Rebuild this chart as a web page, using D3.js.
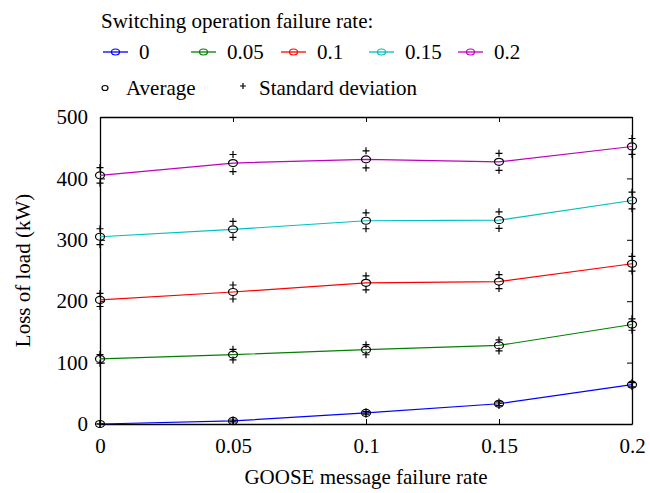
<!DOCTYPE html>
<html>
<head>
<meta charset="utf-8">
<script src="https://cdn.jsdelivr.net/npm/d3@7"></script>
<style>
  body { margin: 0; background: #fff; }
  svg text { font-family: "Liberation Serif", "DejaVu Serif", serif; }
</style>
</head>
<body>
<div id="chart"></div>
<script>

// GOOSE message failure rate (x axis)
var gooseRates = [0, 0.05, 0.1, 0.15, 0.2];
var xTicks = [0, 0.05, 0.1, 0.15, 0.2];
var yTicks = [0, 100, 200, 300, 400, 500];

// switching operation failure rate = one series each
var switchRates = ["0", "0.05", "0.1", "0.15", "0.2"];
var colors = ["#0000ff", "#008000", "#ff0000", "#00bfbf", "#bf00bf"];

// average loss of load (kW)
var avg0   = [0, 5, 18, 33, 64];
var avg005 = [106, 113, 121, 128, 162];
var avg01  = [202, 215, 230, 232, 261];
var avg015 = [305, 317, 331, 332, 364];
var avg02  = [405, 425, 431, 427, 452];

// standard deviation (kW)
var sd0   = [0, 1.5, 2, 3, 3.5];
var sd005 = [7, 8.7, 8.2, 9, 9.3];
var sd01  = [10.6, 11.4, 11.4, 11.4, 12];
var sd015 = [13, 13, 13, 13.5, 13.5];
var sd02  = [12.7, 13.9, 13.9, 13.9, 13];

var avgs = [avg0, avg005, avg01, avg015, avg02];
var sds  = [sd0, sd005, sd01, sd015, sd02];

var width = 650, height = 493;
var margin = {top: 117, right: 18, bottom: 69, left: 100};
var w = width - margin.left - margin.right;
var h = height - margin.top - margin.bottom;
var fontSize = "21px";
var serif = "'Liberation Serif', 'DejaVu Serif', serif";

var svg = d3.select("#chart").append("svg")
  .attr("width", width)
  .attr("height", height);

var x = d3.scaleLinear().domain([0, 0.2]).range([0, w]);
var y = d3.scaleLinear().domain([0, 500]).range([h, 0]);

var g = svg.append("g")
  .attr("transform", "translate(" + margin.left + "," + margin.top + ")");

var fmt = function(d){ return d == 0 ? "0" : String(d); };

// axes, ticks inward
var tickLen = 5;
g.append("g").attr("class", "xaxis")
  .attr("transform", "translate(0," + h + ")")
  .call(d3.axisBottom(x).tickValues(xTicks).tickFormat(fmt).tickSizeInner(-tickLen).tickSizeOuter(0).tickPadding(14));
g.append("g").attr("class", "xaxis-top")
  .call(d3.axisTop(x).tickValues(xTicks).tickFormat("").tickSizeInner(-tickLen).tickSizeOuter(0));
g.append("g").attr("class", "yaxis")
  .call(d3.axisLeft(y).tickValues(yTicks).tickFormat(fmt).tickSizeInner(-tickLen).tickSizeOuter(0).tickPadding(12));
g.append("g").attr("class", "yaxis-right")
  .attr("transform", "translate(" + w + ",0)")
  .call(d3.axisRight(y).tickValues(yTicks).tickFormat("").tickSizeInner(-tickLen).tickSizeOuter(0));

g.selectAll(".xaxis, .yaxis, .xaxis-top, .yaxis-right")
  .attr("font-family", serif)
  .attr("font-size", 21);
g.selectAll(".domain").attr("stroke", "#000").attr("stroke-width", 1.3);
g.selectAll(".tick line").attr("stroke", "#000");
g.selectAll(".tick text")
  .attr("fill", "#000")
  .style("font-size", fontSize)
  .style("font-family", serif);

// series lines
var line = d3.line()
  .x(function(d, i){ return x(gooseRates[i]); })
  .y(function(d){ return y(d); });

avgs.forEach(function(vals, k){
  g.append("path")
    .datum(vals)
    .attr("d", line)
    .attr("fill", "none")
    .attr("stroke", colors[k])
    .attr("stroke-width", 1.2);
});

// average markers and std dev plus signs
function plus(sel, px, py, s){
  sel.append("path")
    .attr("d", "M" + (px - s) + "," + py + "H" + (px + s) + "M" + px + "," + (py - s) + "V" + (py + s))
    .attr("stroke", "#000")
    .attr("stroke-width", 1.2)
    .attr("fill", "none");
}

avgs.forEach(function(vals, k){
  vals.forEach(function(v, i){
    var px = x(gooseRates[i]);
    plus(g, px, y(v + sds[k][i]), 3.5);
    plus(g, px, y(v - sds[k][i]), 3.5);
    g.append("ellipse")
      .attr("cx", px)
      .attr("cy", y(v))
      .attr("rx", 4.5)
      .attr("ry", 3.5)
      .attr("fill", "none")
      .attr("stroke", "#000")
      .attr("stroke-width", 1.2);
  });
});

// axis titles
svg.append("text")
  .attr("x", margin.left + w / 2)
  .attr("y", 484)
  .attr("text-anchor", "middle")
  .style("font-size", fontSize)
  .text("GOOSE message failure rate");

svg.append("text")
  .attr("transform", "translate(30," + (margin.top + h / 2) + ") rotate(-90)")
  .attr("text-anchor", "middle")
  .style("font-size", fontSize)
  .text("Loss of load (kW)");

// legend
var leg = svg.append("g");
leg.append("text")
  .attr("x", 101).attr("y", 28)
  .style("font-size", fontSize)
  .text("Switching operation failure rate:");

var legX = [103, 191, 281, 369, 458];
switchRates.forEach(function(s, k){
  var lx = legX[k];
  leg.append("line")
    .attr("x1", lx).attr("x2", lx + 25)
    .attr("y1", 52).attr("y2", 52)
    .attr("stroke", colors[k]).attr("stroke-width", 1.3);
  leg.append("ellipse")
    .attr("cx", lx + 12.5).attr("cy", 52)
    .attr("rx", 4).attr("ry", 3)
    .attr("fill", "none").attr("stroke", colors[k]).attr("stroke-width", 1.2);
  leg.append("text")
    .attr("x", lx + 36).attr("y", 59)
    .style("font-size", fontSize)
    .text(s);
});

leg.append("ellipse")
  .attr("cx", 105).attr("cy", 88)
  .attr("rx", 3).attr("ry", 2.5)
  .attr("fill", "none").attr("stroke", "#000").attr("stroke-width", 1.2);
leg.append("text")
  .attr("x", 126).attr("y", 95)
  .style("font-size", fontSize)
  .text("Average");
plus(leg, 243, 86, 3);
leg.append("text")
  .attr("x", 259).attr("y", 95)
  .style("font-size", fontSize)
  .text("Standard deviation");

</script>
</body>
</html>
